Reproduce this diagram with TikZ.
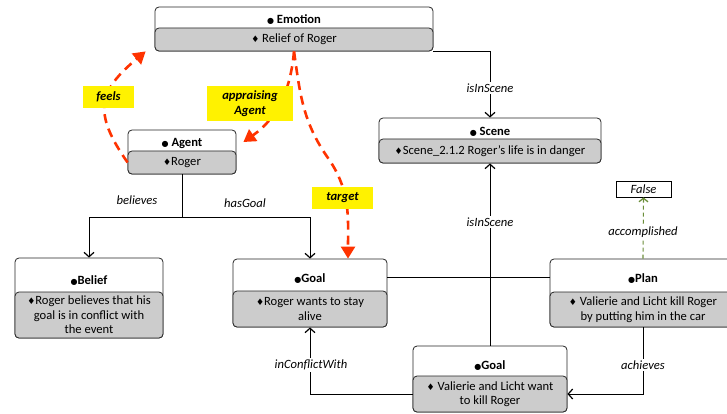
\documentclass[tikz,border=0pt]{standalone}
\usepackage{fontspec}
\setmainfont{Carlito}
\newfontfamily\symfont{DejaVu Sans}
\usetikzlibrary{arrows.meta,calc}
\newcommand{\bul}{{\symfont\fontsize{8}{8}\selectfont ●}}
\newcommand{\dia}{{\symfont\fontsize{9}{9}\selectfont ♦}}
\newcommand{\fsz}{\fontsize{12.6}{14.5}\selectfont}
\definecolor{redc}{HTML}{FF3300}
\definecolor{olivec}{HTML}{6B8E3A}
\definecolor{grayc}{HTML}{CCCCCC}
\tikzset{
  box/.style={draw=black!85, rounded corners=4pt, fill=white, line width=0.8pt, inner sep=0pt},
  body/.style={box, fill=grayc, align=center},
  ttl/.style={font=\fsz\bfseries, inner sep=0pt},
  lbl/.style={font=\fsz\itshape, fill=white, inner sep=1.5pt},
  tag/.style={fill=yellow, font=\fsz\bfseries\itshape, align=center, inner sep=0pt},
  conn/.style={draw=black, line width=0.9pt},
  carr/.style={conn, -{Straight Barb[length=4.5pt,width=10pt,line width=1.2pt]}},
  redarr/.style={draw=redc, line width=2.6pt, dash pattern=on 9pt off 6pt, -{Triangle[length=12pt,width=14pt]}},
  olarr/.style={draw=olivec, line width=1.1pt, dash pattern=on 4pt off 3pt, -{Straight Barb[length=3.5pt,width=9pt,line width=1.3pt]}}
}
\begin{document}
\begin{tikzpicture}[x=1pt,y=-1pt,font=\fsz]
\useasboundingbox (0,0) rectangle (727,414);
% Emotion
\node[box, minimum width=278pt, minimum height=44pt] (emo) at (294,29) {};
\node[body, minimum width=278pt, minimum height=23pt] (emob) at (294,39.5) {\dia\ Relief of Roger};
\node[ttl] (emot) at (294,20) {\bul\ Emotion};
% Agent
\node[box, minimum width=108pt, minimum height=44pt] (agent) at (182,152) {};
\node[body, minimum width=108pt, minimum height=23pt] (agentb) at (182,162.5) {\dia Roger};
\node[ttl] (agentt) at (182,143) {\bul\ Agent};
% Scene
\node[box, minimum width=222pt, minimum height=45pt] (scene) at (490,140.5) {};
\node[body, minimum width=222pt, minimum height=24pt] (sceneb) at (490,151) {\dia Scene\_2.1.2 Roger's life is in danger};
\node[ttl] (scenet) at (490,132) {\bul\ Scene};
% False
\node[draw=black, line width=0.9pt, fill=white, minimum width=55pt, minimum height=16pt, inner sep=0pt, font=\fsz\itshape] (false) at (643.5,189) {False};
% Belief
\node[box, minimum width=148pt, minimum height=80pt] (belief) at (89,298) {};
\node[body, minimum width=148pt, minimum height=46pt] (beliefb) at (89,315) {\dia Roger believes that his\\goal is in conflict with\\the event};
\node[ttl] (belieft) at (89,281) {\bul Belief};
% Goal 1
\node[box, minimum width=154pt, minimum height=68pt] (goal1) at (310,293) {};
\node[body, minimum width=154pt, minimum height=36pt] (goal1b) at (310,309) {\dia Roger wants to stay\\alive};
\node[ttl] (goal1t) at (310,279) {\bul Goal};
% Plan
\node[box, minimum width=186pt, minimum height=68pt] (plan) at (643,293) {};
\node[body, minimum width=186pt, minimum height=35pt] (planb) at (643,309.5) {\dia\ Valierie and Licht kill Roger\\by putting him in the car};
\node[ttl] (plant) at (643,279) {\bul Plan};
% Goal 2
\node[box, minimum width=154pt, minimum height=66pt] (goal2) at (490,379) {};
\node[body, minimum width=154pt, minimum height=36pt] (goal2b) at (490,394) {\dia\ Valierie and Licht want\\to kill Roger};
\node[ttl] (goal2t) at (490,366) {\bul Goal};

% connectors
\coordinate (j1) at (182,217);
\draw[conn] (agentb.south) -- (j1);
\draw[carr] (j1) -| (belief.north);
\draw[carr] (j1) -| (goal1.north);
\node[font=\fsz\itshape] (lbel) at (137,200) {believes};
\node[font=\fsz\itshape] (lhas) at (245,203) {hasGoal};

\draw[carr] (emob.south east) -| (scene.north);
\node[lbl] (lis1) at (490,88) {isInScene};

\draw[conn] ([yshift=16pt]goal1.east) -- ([yshift=16pt]plan.west);
\draw[carr] (goal2.north) -- (sceneb.south);
\node[lbl] (lis2) at (490,222) {isInScene};

\draw[carr] (planb.south) |- (goal2b.east);
\node[lbl] (lach) at (643,365) {achieves};

\draw[carr] (goal2b.west) -| (goal1b.south);
\node[lbl] (lconf) at (311,365) {inConflictWith};

\draw[olarr] (plan.north) -- (false.south);
\node[lbl] (lacc) at (643,232) {accomplished};

% red dashed arrows
\coordinate (feelsTip) at ([xshift=-9pt]emob.south west);
\draw[redarr] (agentb.west) to[out=125,in=220,looseness=1.4] (feelsTip);
\coordinate (apTip) at ([xshift=7pt,yshift=10pt]agent.east);
\draw[redarr] (emob.south) to[out=-95,in=35] (apTip);
\coordinate (tbend) at (328,158);
\coordinate (tgTip) at ([xshift=38pt]goal1.north);
\draw[redarr] (emob.south) to[out=-82,in=125] (tbend) to[out=-55,in=90] (tgTip);

\node[tag, minimum width=51pt, minimum height=22pt] (tfeels) at (108.5,97) {feels};
\node[tag, minimum width=86pt, minimum height=35pt] (tapp) at (250,103.5) {appraising\\Agent};
\node[tag, minimum width=61pt, minimum height=22pt] (ttarget) at (342.5,198) {target};
\end{tikzpicture}
\end{document}
